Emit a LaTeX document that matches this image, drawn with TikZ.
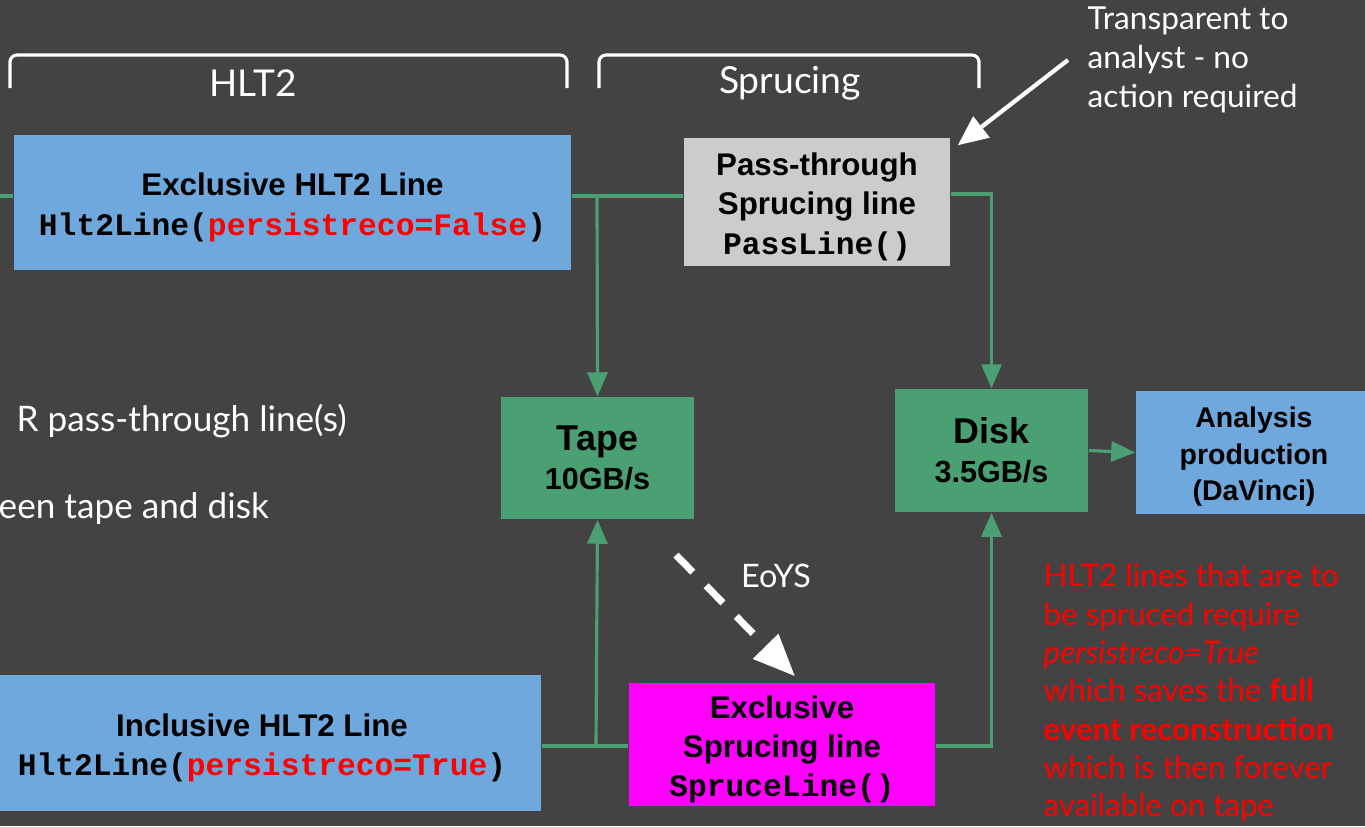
\documentclass[tikz,border=0pt]{standalone}
\usepackage{fontspec}
\setmainfont{Lato}
\newfontfamily\arialfont{Liberation Sans}
\newfontfamily\courierfont{Liberation Mono}
\usetikzlibrary{arrows.meta}

\definecolor{slidegrey}{HTML}{434343}
\definecolor{hltblue}{HTML}{6FA8DC}
\definecolor{storegreen}{HTML}{4BA073}
\definecolor{passgrey}{HTML}{CCCCCC}
\definecolor{sprucepink}{HTML}{FF00FF}

\newcommand{\pyfn}[1]{{\courierfont\bfseries #1}}
\newcommand{\boxtop}[1][9.2pt]{\rule{0pt}{#1}}

\begin{document}
\begin{tikzpicture}[x=0.01cm, y=-0.01cm,
	box/.style={rectangle, inner sep=0pt, align=center, text=black,
		font=\arialfont\bfseries\fontsize{8.9}{11.2}\selectfont},
	hltbox/.style={box, fill=hltblue, minimum width=5.57cm, minimum height=1.35cm},
	storebox/.style={box, fill=storegreen, minimum width=1.93cm, minimum height=1.23cm},
	link/.style={draw=storegreen, line width=0.9pt},
	flow/.style={link, -{Triangle[length=2.4mm, width=2mm]}},
	brace/.style={draw=white, line width=0.9pt, rounded corners=0.07cm},
	slidetext/.style={text=white, font=\fontsize{9}{11.1}\selectfont, align=left, inner sep=0pt}]

	\fill[slidegrey] (0,0) rectangle (1365,826);
	\useasboundingbox (0,0) rectangle (1365,826);

	% stage brackets
	\draw[brace] (10,88) -- (10,55) -- (567,55) -- (567,88);
	\draw[brace] (599,88) -- (599,55) -- (979,55) -- (979,88);
	\node[slidetext, font=\fontsize{10.5}{12}\selectfont] (hlt) at (253,83) {HLT2};
	\node[slidetext, font=\fontsize{10.6}{12}\selectfont] (spr) at (790,83) {Sprucing};

	% boxes
	\node[hltbox] (exhlt) at (292.5,202.5)
		{\boxtop Exclusive HLT2 Line\\ \pyfn{Hlt2Line(\textcolor{red}{persistreco=False})}};
	\node[box, fill=passgrey, minimum width=2.66cm, minimum height=1.28cm] (pass) at (817,202)
		{\boxtop Pass-through\\ Sprucing line\\ \pyfn{PassLine()}};
	\node[storebox, minimum height=1.22cm] (tape) at (597.5,458)
		{{\fontsize{10.2}{11.4}\selectfont Tape}\\ {\fontsize{8.7}{11.4}\selectfont 10GB/s}};
	\node[storebox] (disk) at (991.5,450.5)
		{{\fontsize{10.2}{11.4}\selectfont Disk}\\ {\fontsize{8.7}{11.4}\selectfont 3.5GB/s}};
	\node[box, fill=hltblue, minimum width=2.36cm, minimum height=1.23cm,
		font=\arialfont\bfseries\fontsize{8.1}{10.4}\selectfont] (ana) at (1254,452.5)
		{\boxtop[8.3pt]Analysis\\ production\\ (DaVinci)};
	\node[hltbox, minimum width=5.58cm, minimum height=1.36cm] (inhlt) at (262,743)
		{\boxtop Inclusive HLT2 Line\\ \pyfn{Hlt2Line(\textcolor{red}{persistreco=True})}};
	\node[box, fill=sprucepink, minimum width=3.06cm, minimum height=1.23cm] (spruce) at (782,744.5)
		{\boxtop Exclusive\\ Sprucing line\\ \pyfn{SpruceLine()}};

	% texts
	\node[slidetext, anchor=west] (note) at (1087,60) {Transparent to\\ analyst - no\\ action required};
	\node[slidetext, anchor=west, font=\fontsize{10}{12}\selectfont] (or) at (16,421) {R pass-through line(s)};
	\node[slidetext, anchor=west, font=\fontsize{10}{12}\selectfont] (tween) at (-2,509) {een tape and disk};
	\node[slidetext, font=\fontsize{9.2}{10}\selectfont] (eoys) at (776,576) {EoYS};
	\node[slidetext, anchor=west, text=red, font=\fontsize{8.9}{10.9}\selectfont] (persist) at (1043,693)
		{HLT2 lines that are to\\ be spruced require\\ \textit{persistreco=True}\\ which saves the \textbf{full}\\
		\textbf{event reconstruction}\\ which is then forever\\ available on tape};

	% connectors
	\coordinate (topline) at (0,196);
	\coordinate (botline) at (0,746);
	\coordinate (tapeup) at (597,196);
	\coordinate (tapedown) at (596,746);
	\draw[link] (topline) -- (exhlt.west |- topline);
	\draw[link] (exhlt.east |- topline) -- (pass.west |- topline);
	\draw[flow] (tapeup) -- (tape.north);
	\draw[flow] (pass.east |- 0,194) -| (disk.north);
	\draw[link] (inhlt.east |- botline) -- (spruce.west |- botline);
	\draw[flow] (tapedown) -- (tape.south);
	\draw[flow] (spruce.east |- botline) -| (disk.south);
	\draw[flow] (disk.east) -- (ana.west);

	\draw[white, line width=1.2pt, -{Triangle[length=3mm, width=2.6mm]}]
		([xshift=-0.19cm]note.west) -- ([xshift=0.07cm, yshift=-0.08cm]pass.north east);
	\coordinate (eoysfrom) at (676,555);
	\draw[white, line width=2pt, dash pattern=on 0.24cm off 0.19cm, -{Triangle[length=4.2mm, width=3.4mm]}]
		(eoysfrom) -- ([xshift=0.13cm, yshift=0.06cm]spruce.north);
\end{tikzpicture}
\end{document}
